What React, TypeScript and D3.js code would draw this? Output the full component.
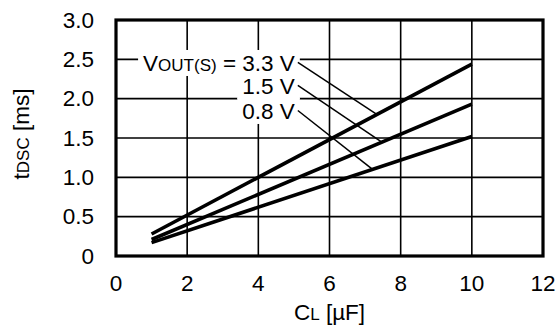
import React, { useEffect, useRef } from "react";
import * as d3 from "d3";

const capacitance = [1, 10];
const tdsc33 = [0.28, 2.44];
const tdsc15 = [0.21, 1.93];
const tdsc08 = [0.17, 1.52];
const seriesLabels = ["3.3 V", "1.5 V", "0.8 V"];
const xTicks = [0, 2, 4, 6, 8, 10, 12];
const yTicks = [0, 0.5, 1, 1.5, 2, 2.5, 3];
const yTickLabels = ["0", "0.5", "1.0", "1.5", "2.0", "2.5", "3.0"];
const leaderStartCl = 5.11;
const leaderStartVal = [2.46, 2.17, 1.85];
const leaderEndCl = [7.33, 7.47, 7.21];

const W = 559, H = 332;
const M = { left: 116, right: 543, top: 20, bottom: 256 };
const FONT = "'Liberation Sans', Arial, Helvetica, sans-serif";
const FS = 22.5;
const FS_SMALL = 17;

export default function App() {
  const ref = useRef<SVGSVGElement>(null);
  useEffect(() => {
    const svg = d3.select(ref.current);
    svg.selectAll("*").remove();
    const x = d3.scaleLinear().domain([0, 12]).range([M.left, M.right]);
    const y = d3.scaleLinear().domain([0, 3]).range([M.bottom, M.top]);

    const grid = svg.append("g").attr("stroke", "#000").attr("stroke-width", 1.6);
    xTicks.slice(1, -1).forEach((t) => {
      grid.append("line").attr("x1", x(t)).attr("x2", x(t)).attr("y1", M.top).attr("y2", M.bottom);
    });
    yTicks.slice(1, -1).forEach((t) => {
      grid.append("line").attr("x1", M.left).attr("x2", M.right).attr("y1", y(t)).attr("y2", y(t));
    });

    // tick labels
    const tl = svg.append("g").attr("font-family", FONT).attr("font-size", FS).attr("fill", "#000");
    xTicks.forEach((t) => {
      tl.append("text").attr("x", x(t)).attr("y", 291).attr("text-anchor", "middle").text(String(t));
    });
    yTicks.forEach((t, i) => {
      tl.append("text").attr("x", 94).attr("y", y(t) + 7.5).attr("text-anchor", "end").text(yTickLabels[i]);
    });

    // legend labels with white backing
    const legendG = svg.append("g");
    const bgG = legendG.append("g");
    const txtG = legendG.append("g").attr("font-family", FONT).attr("font-size", FS).attr("fill", "#000");
    const series = [tdsc33, tdsc15, tdsc08];
    const texts: SVGTextElement[] = [];
    seriesLabels.forEach((lab, i) => {
      const tx = x(leaderStartCl) - 3;
      const ty = y(leaderStartVal[i]) + 8.5;
      const t = txtG.append("text").attr("x", tx).attr("y", ty).attr("text-anchor", "end");
      if (i === 0) {
        t.append("tspan").text("V");
        t.append("tspan").attr("font-size", FS_SMALL).text("OUT(S)");
        t.append("tspan").text(" = " + lab);
      } else {
        t.text(lab);
      }
      texts.push(t.node() as SVGTextElement);
    });
    texts.forEach((n) => {
      const b = n.getBBox();
      bgG.append("rect").attr("x", b.x - 5).attr("y", b.y - 1).attr("width", b.width + 10).attr("height", b.height + 1).attr("fill", "#fff");
    });

    // leader lines
    const leaders = svg.append("g").attr("stroke", "#000").attr("stroke-width", 1.5);
    series.forEach((s, i) => {
      const interp = d3.scaleLinear().domain(capacitance).range(s);
      leaders.append("line")
        .attr("x1", x(leaderStartCl)).attr("y1", y(leaderStartVal[i]))
        .attr("x2", x(leaderEndCl[i])).attr("y2", y(interp(leaderEndCl[i])));
    });

    // data lines
    const line = d3.line<number>().x((_, j) => x(capacitance[j])).y((d) => y(d));
    series.forEach((s) => {
      svg.append("path").attr("d", line(s)).attr("fill", "none").attr("stroke", "#000").attr("stroke-width", 3.6);
    });

    // frame
    svg.append("rect").attr("x", M.left).attr("y", M.top).attr("width", M.right - M.left).attr("height", M.bottom - M.top)
      .attr("fill", "none").attr("stroke", "#000").attr("stroke-width", 3.2);

    // axis titles
    const yt = svg.append("text").attr("font-family", FONT).attr("font-size", FS).attr("text-anchor", "middle")
      .attr("transform", `translate(29,${(M.top + M.bottom) / 2 - 4}) rotate(-90)`);
    yt.append("tspan").text("t");
    yt.append("tspan").attr("font-size", FS_SMALL).text("DSC");
    yt.append("tspan").text(" [ms]");

    const xt = svg.append("text").attr("font-family", FONT).attr("font-size", FS).attr("text-anchor", "middle")
      .attr("x", (M.left + M.right) / 2).attr("y", 320);
    xt.append("tspan").text("C");
    xt.append("tspan").attr("font-size", FS_SMALL).text("L");
    xt.append("tspan").text(" [\u00B5F]");
  }, []);

  return (
    <svg ref={ref} width={W} height={H} style={{ position: "absolute", left: 0, top: 0, background: "#fff" }} />
  );
}
